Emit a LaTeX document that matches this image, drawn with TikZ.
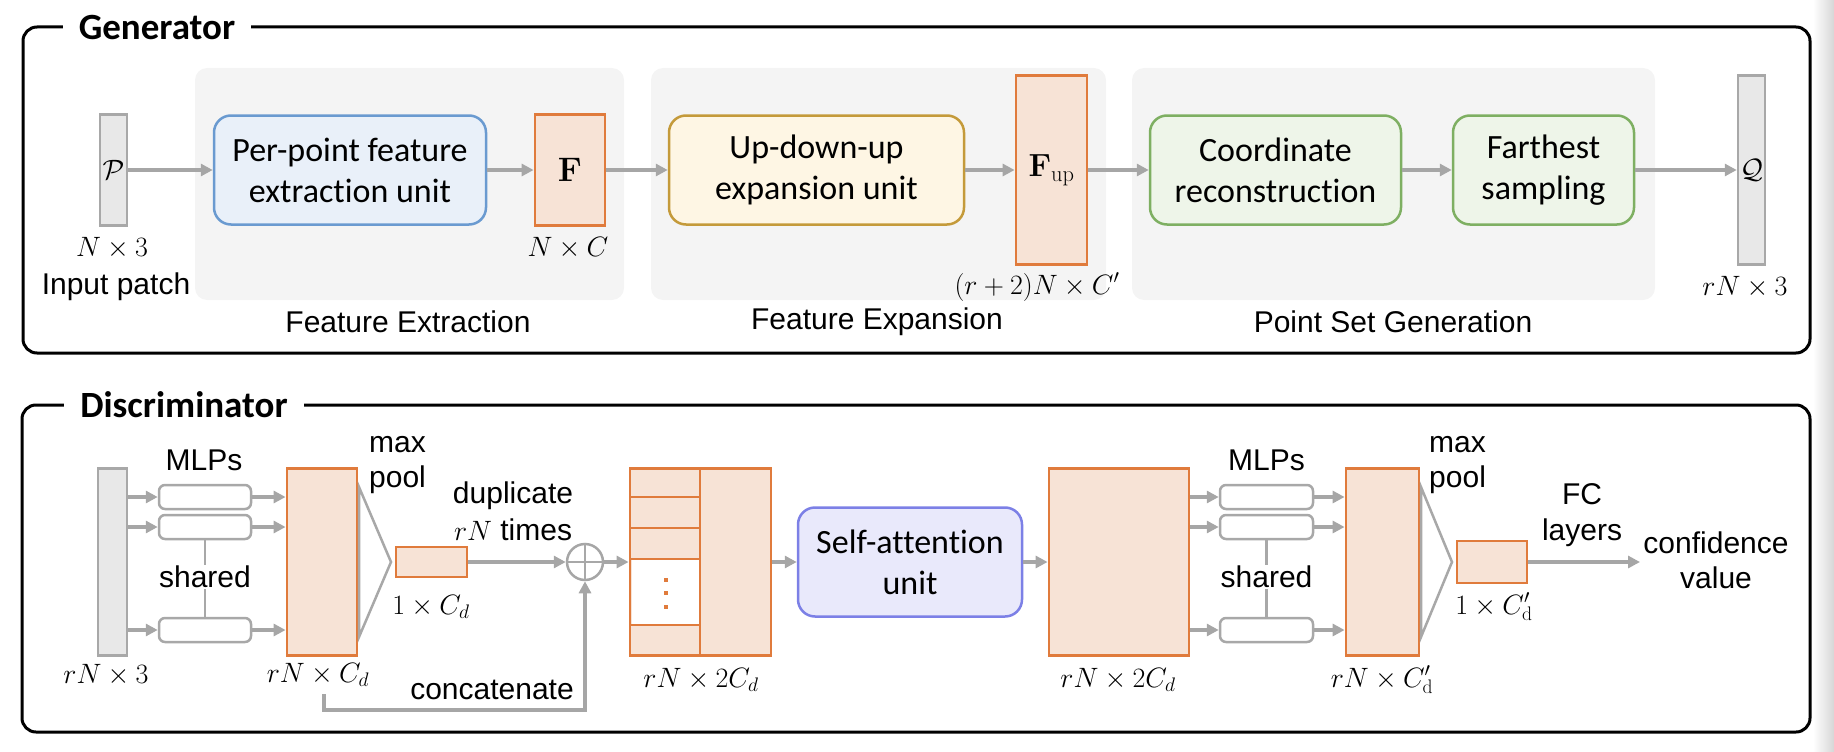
\RequirePackage{fix-cm}
\documentclass[tikz,border=0pt]{standalone}
\usepackage[no-math]{fontspec}
\setmainfont{Liberation Sans}
\newfontfamily\calibri[Ligatures=NoCommon]{Carlito}
\usetikzlibrary{arrows.meta,positioning}

\definecolor{panelgray}{HTML}{F4F4F4}
\definecolor{ptgray}{HTML}{A8A8A8}
\definecolor{ptfill}{HTML}{E8E8E8}
\definecolor{arrowgray}{HTML}{A6A6A6}
\definecolor{featorange}{HTML}{E07B3C}
\definecolor{featfill}{HTML}{F7E3D6}
\definecolor{unitblue}{HTML}{6A9AD0}
\definecolor{unitbluefill}{HTML}{E9F0F9}
\definecolor{unityellow}{HTML}{C49A3A}
\definecolor{unityellowfill}{HTML}{FEF6E4}
\definecolor{unitgreen}{HTML}{7EAF62}
\definecolor{unitgreenfill}{HTML}{EEF5E9}
\definecolor{attnblue}{HTML}{7C80E6}
\definecolor{attnfill}{HTML}{E9E9FB}

\tikzset{
  frame/.style={draw=black, line width=3pt, rounded corners=14pt},
  title/.style={fill=white, inner xsep=16pt, inner ysep=2pt, font=\calibri\bfseries\fontsize{37}{42}\selectfont},
  panel/.style={fill=panelgray, rounded corners=12pt},
  unit/.style={rounded corners=17pt, line width=2.5pt, minimum height=109pt, align=center,
    font=\calibri\fontsize{34}{41}\selectfont},
  feat/.style={draw=featorange, fill=featfill, line width=2.8pt, inner sep=0pt},
  featline/.style={draw=featorange, line width=2.8pt},
  pts/.style={draw=ptgray, fill=ptfill, line width=2.5pt, inner sep=0pt, font=\fontsize{28}{34}\selectfont},
  mlp/.style={draw=ptgray, fill=white, rounded corners=6pt, line width=2.5pt, inner sep=0pt, minimum height=24pt},
  flow/.style={draw=arrowgray, line width=4pt, -{Triangle[length=12pt,width=12pt]}},
  share/.style={draw=ptgray, line width=2.5pt},
  pool/.style={draw=ptgray, line width=2.5pt, line join=miter},
  lbl/.style={inner sep=1pt, font=\fontsize{30}{35}\selectfont},
  dimlbl/.style={inner sep=1pt, font=\fontsize{28}{34}\selectfont},
}

\begin{document}
\begin{tikzpicture}[x=1pt,y=-1pt]
  \useasboundingbox (0,0) rectangle (1834,752);
  \shade[left color=white, right color=black!16] (1813,0) rectangle (1834,752);

  % ---------------- Generator ----------------
  \draw[frame] (23,27) rectangle (1810,353);
  \node[title] (gentitle) at (157,28) {Generator};

  \fill[panel] (195,68) rectangle (624,300);
  \fill[panel] (651,68) rectangle (1106,300);
  \fill[panel] (1132,68) rectangle (1655,300);
  \node[lbl] (extractlbl) at (408,322) {Feature Extraction};
  \node[lbl] (expandlbl) at (877,322) {Feature Expansion};
  \node[lbl] (genlbl) at (1393,322) {Point Set Generation};

  % Define nodes
  \node[pts, minimum width=27pt, minimum height=111pt] (inpatch) at (113.5,170) {$\mathcal{P}$};
  \node[unit, draw=unitblue, fill=unitbluefill, minimum width=272pt] (ppfe) at (350,170)
    {Per-point feature\\extraction unit};
  \node[feat, minimum width=70pt, minimum height=111pt, font=\fontsize{34}{40}\selectfont] (featF) at (570,170) {$\mathbf{F}$};
  \node[unit, draw=unityellow, fill=unityellowfill, minimum width=295pt] (updown) at (816.5,170)
    {Up-down-up\\expansion unit};
  \node[feat, minimum width=71pt, minimum height=189pt, font=\fontsize{32}{38}\selectfont] (featFup) at (1051.5,170) {$\mathbf{F}_{\mathrm{up}}$};
  \node[unit, draw=unitgreen, fill=unitgreenfill, minimum width=251pt] (coordrec) at (1275.5,170)
    {Coordinate\\reconstruction};
  \node[unit, draw=unitgreen, fill=unitgreenfill, minimum width=181pt] (farthest) at (1543.5,170)
    {Farthest\\sampling};
  \node[pts, minimum width=27pt, minimum height=189pt] (outQ) at (1751.5,170) {$\mathcal{Q}$};

  \node[dimlbl] (inpatchdim) at (112,248) {$N\times 3$};
  \node[lbl] (inpatchtxt) at (116,287) {Input patch};
  \node[dimlbl] (featFdim) at (568,248) {$N\times C$};
  \node[dimlbl] (featFupdim) at (1037,287) {$(r+2)N\times C'$};
  \node[dimlbl] (outQdim) at (1745,287) {$rN\times 3$};

  % Draw edges
  \draw[flow] (inpatch) -- (ppfe);
  \draw[flow] (ppfe) -- (featF);
  \draw[flow] (featF) -- (updown);
  \draw[flow] (updown) -- (featFup);
  \draw[flow] (featFup) -- (coordrec);
  \draw[flow] (coordrec) -- (farthest);
  \draw[flow] (farthest) -- (outQ);

  % ---------------- Discriminator ----------------
  \draw[frame] (22,405) rectangle (1810,732);
  \node[title] (distitle) at (184,405) {Discriminator};

  % Define nodes
  \node[pts, minimum width=29pt, minimum height=187pt] (dinput) at (112.5,562) {};
  \node[mlp, minimum width=92pt] (mlpa) at (205,497) {};
  \node[mlp, minimum width=92pt] (mlpb) at (205,527) {};
  \node[mlp, minimum width=92pt] (mlpc) at (205,630) {};
  \node[feat, minimum width=70pt, minimum height=187pt] (featD) at (322,562) {};
  \node[feat, minimum width=71pt, minimum height=30pt] (poolD) at (431.5,562) {};
  \node[circle, draw=arrowgray, line width=2.5pt, minimum size=36pt, inner sep=0pt] (plus) at (585,562) {};
  \node[feat, minimum width=141pt, minimum height=187pt] (catbox) at (700.5,562) {};
  \node[unit, draw=attnblue, fill=attnfill, minimum width=224pt] (selfatt) at (910,562)
    {Self-attention\\unit};
  \node[feat, minimum width=140pt, minimum height=187pt] (attfeat) at (1119,562) {};
  \node[mlp, minimum width=93pt] (mlpd) at (1266.5,497) {};
  \node[mlp, minimum width=93pt] (mlpe) at (1266.5,527) {};
  \node[mlp, minimum width=93pt] (mlpf) at (1266.5,630) {};
  \node[feat, minimum width=73pt, minimum height=187pt] (featDd) at (1382.5,562) {};
  \node[feat, minimum width=70pt, minimum height=42pt] (poolDd) at (1492,562) {};
  \coordinate (confend) at (1640,562);

  % concatenated feature rows
  \fill[white] (631.5,559) rectangle (699,625);
  \draw[featline] (700,468) -- (700,656);
  \foreach \yy in {497,528,559,625}
    \draw[featline] (631,\yy) -- (700,\yy);
  \foreach \yy in {580,593,607}
    \fill[featorange] (664,\yy-2) rectangle (668,\yy+2);

  % max pool
  \draw[pool] (359,487) -- (391,562) -- (359,637) -- cycle;
  \draw[pool] (1421,487) -- (1452,562) -- (1421,637) -- cycle;
  \draw[share] (plus.north) -- (plus.south) (plus.west) -- (plus.east);

  % labels
  \node[lbl] (mlplblA) at (204,460) {MLPs};
  \node[lbl] (sharedA) at (205,577) {shared};
  \node[lbl] (mlplblB) at (1266.5,460) {MLPs};
  \node[lbl] (sharedB) at (1266.5,577) {shared};
  \node[lbl, align=left, anchor=west, font=\fontsize{30}{35}\selectfont] (maxpoolA) at (368,465) {max\\pool};
  \node[lbl, align=left, anchor=west, font=\fontsize{30}{35}\selectfont] (maxpoolB) at (1428,465) {max\\pool};
  \node[lbl, align=center, font=\fontsize{30}{37}\selectfont] (duplbl) at (513,511) {duplicate\\{\fontsize{28}{37}\selectfont$rN$} times};
  \node[lbl] (catlbl) at (492,690) {concatenate};
  \node[lbl, align=center, font=\fontsize{30}{36}\selectfont] (fclbl) at (1582,515) {FC\\layers};
  \node[lbl, align=center, font=\fontsize{30}{35}\selectfont] (conflbl) at (1716,560) {confidence\\value};
  \node[dimlbl] (dinputdim) at (106,675) {$rN\times 3$};
  \node[dimlbl] (featDdim) at (318,675) {$rN\times C_d$};
  \node[dimlbl] (poolDdim) at (431,607) {$1\times C_d$};
  \node[dimlbl] (catboxdim) at (701,680) {$rN\times 2C_d$};
  \node[dimlbl] (attfeatdim) at (1118,680) {$rN\times 2C_d$};
  \node[dimlbl] (featDddim) at (1382,680) {$rN\times C'_{\mathrm{d}}$};
  \node[dimlbl] (poolDddim) at (1494,607) {$1\times C'_{\mathrm{d}}$};

  % Draw edges
  \foreach \m in {mlpa,mlpb,mlpc} {
    \draw[flow] (dinput.east |- \m) -- (\m);
    \draw[flow] (\m) -- (featD.west |- \m);
  }
  \draw[share] (mlpb) -- (sharedA);
  \draw[share] (sharedA) -- (mlpc);
  \draw[flow] (poolD) -- (plus);
  \draw[flow] (plus) -- (catbox);
  \coordinate (catfrom) at (324,694);
  \coordinate (catbend) at (324,710);
  \draw[flow] (catfrom) -- (catbend) -| (plus.south);
  \draw[flow] (catbox) -- (selfatt);
  \draw[flow] (selfatt) -- (attfeat);
  \foreach \m in {mlpd,mlpe,mlpf} {
    \draw[flow] (attfeat.east |- \m) -- (\m);
    \draw[flow] (\m) -- (featDd.west |- \m);
  }
  \draw[share] (mlpe) -- (sharedB);
  \draw[share] (sharedB) -- (mlpf);
  \draw[flow] (poolDd) -- (confend);
\end{tikzpicture}
\end{document}
